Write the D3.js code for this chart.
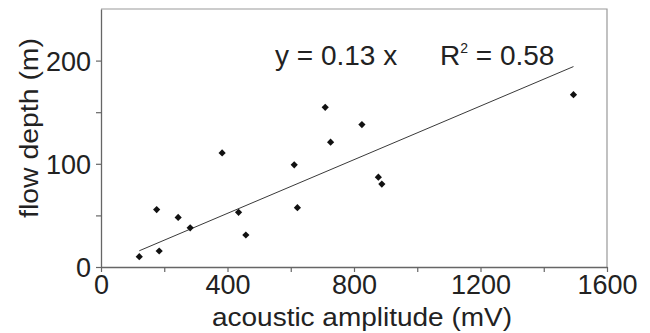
<!DOCTYPE html>
<html>
<head>
<meta charset="utf-8">
<script src="https://cdn.jsdelivr.net/npm/d3@7"></script>
<style>
  body { margin: 0; background: #fff; }
  svg { display: block; font-family: "Liberation Sans", Arial, sans-serif; }
</style>
</head>
<body>
<svg id="chart" width="650" height="333"></svg>
<script>
// flow depth vs acoustic amplitude
const amplitude = [121, 176, 184, 244, 282, 383, 435, 458, 611, 621, 709, 726, 825, 877, 888, 1494];
const depth     = [10, 55.6, 15.5, 48, 38, 110.5, 53, 31, 99, 57.5, 154.7, 121, 138, 87, 80.4, 167];
const slope = 0.13;
const xTicks = [0, 200, 400, 600, 800, 1000, 1200, 1400, 1600];
const yTicks = [0, 50, 100, 150, 200];

const svg = d3.select("#chart");
const m = { left: 101, right: 607, top: 9, bottom: 267 };

const x = d3.scaleLinear().domain([0, 1600]).range([m.left, m.right]);
const y = d3.scaleLinear().domain([0, 250]).range([m.bottom, m.top]);

// frame (top / right)
svg.append("path")
  .attr("d", `M${m.left},${m.top}H${m.right}V${m.bottom}`)
  .attr("fill", "none").attr("stroke", "#999").attr("stroke-width", 1.2);

// axes
const xAxis = svg.append("g").attr("transform", `translate(0,${m.bottom})`)
  .call(d3.axisBottom(x).tickValues(xTicks).tickSize(5).tickSizeOuter(0)
    .tickFormat(d => d % 400 === 0 ? d : ""));
const yAxis = svg.append("g").attr("transform", `translate(${m.left},0)`)
  .call(d3.axisLeft(y).tickValues(yTicks).tickSize(5).tickSizeOuter(0)
    .tickFormat(d => d % 100 === 0 ? d : ""));

[xAxis, yAxis].forEach(g => {
  g.select(".domain").attr("stroke", "#666").attr("stroke-width", 1.3);
  g.selectAll(".tick line").attr("stroke", "#666").attr("stroke-width", 1.2);
  g.selectAll("text").attr("font-size", 27).attr("fill", "#222")
    .attr("font-family", "Liberation Sans, Arial, sans-serif");
});
xAxis.selectAll("text").attr("dy", 0).attr("y", 27);
yAxis.selectAll("text").attr("x", -10).attr("dy", "0.36em");

// trend line
const xr = d3.extent(amplitude);
svg.append("line")
  .attr("x1", x(xr[0])).attr("y1", y(slope * xr[0]))
  .attr("x2", x(xr[1])).attr("y2", y(slope * xr[1]))
  .attr("stroke", "#222").attr("stroke-width", 0.9);

// points
const diamond = d3.symbol().type(d3.symbolSquare).size(26);
svg.append("g").selectAll("path")
  .data(amplitude.map((a, i) => [a, depth[i]]))
  .join("path")
  .attr("d", diamond)
  .attr("transform", d => `translate(${x(d[0])},${y(d[1])}) rotate(45)`)
  .attr("fill", "#111");

// equation
const eq = svg.append("text").attr("y", 65).attr("font-size", 28).attr("fill", "#222");
eq.append("tspan").attr("x", 275).text("y = 0.13 x");
eq.append("tspan").attr("x", 440).text("R");
eq.append("tspan").attr("font-size", 14).attr("dy", -12).text("2");
eq.append("tspan").attr("dy", 12).text(" = 0.58");

// axis titles
svg.append("text")
  .attr("x", (m.left + m.right) / 2 + 8).attr("y", 326)
  .attr("text-anchor", "middle").attr("font-size", 26).attr("fill", "#222")
  .attr("textLength", 300).attr("lengthAdjust", "spacingAndGlyphs")
  .text("acoustic amplitude (mV)");
svg.append("text")
  .attr("transform", `translate(38,${128}) rotate(-90)`)
  .attr("text-anchor", "middle").attr("font-size", 26).attr("fill", "#222")
  .attr("textLength", 180).attr("lengthAdjust", "spacingAndGlyphs")
  .text("flow depth (m)");
</script>
</body>
</html>
